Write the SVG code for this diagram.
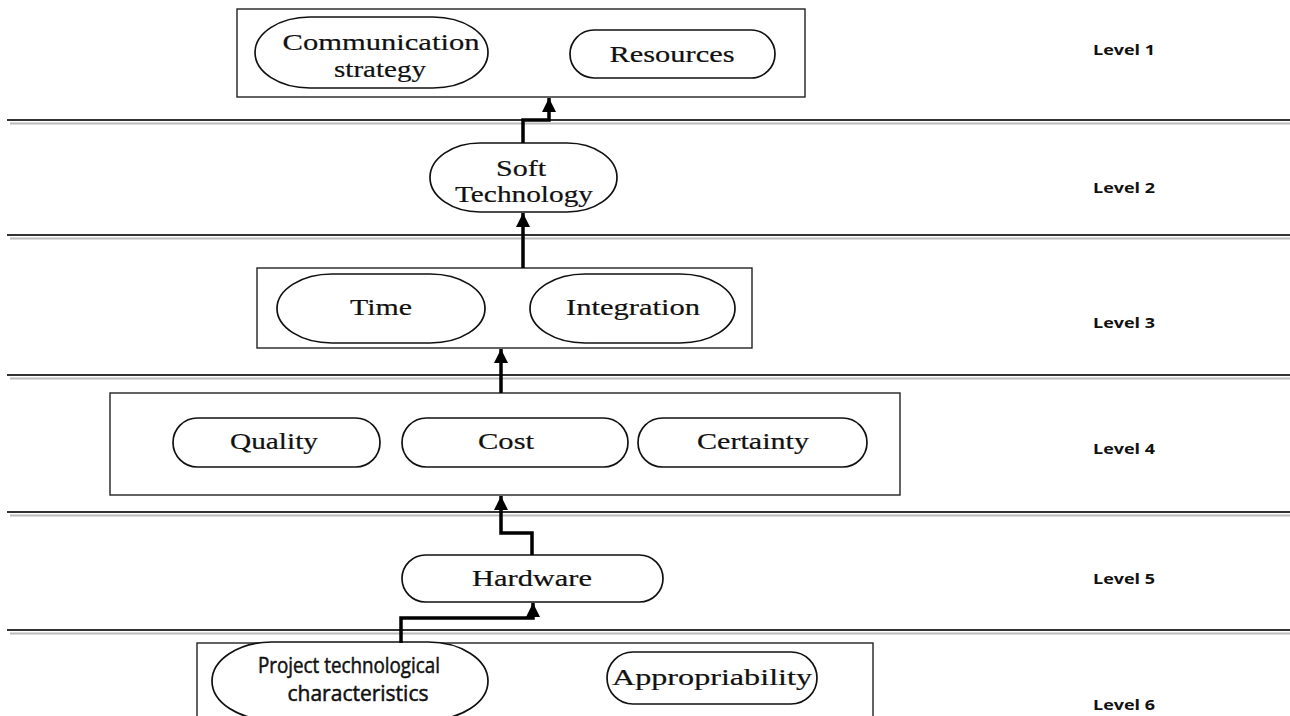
<svg xmlns="http://www.w3.org/2000/svg" width="1290" height="716" viewBox="0 0 1290 716">
<style>
.box{fill:#fff;stroke:#222;stroke-width:1.4}
.pill{fill:#fff;stroke:#111;stroke-width:1.7}
.t{font-family:"Liberation Serif","Times New Roman",serif;font-size:24px;fill:#111;stroke:#111;stroke-width:0.2;text-anchor:middle}
.s{font-family:"Open Sans","Liberation Sans",sans-serif;font-size:21px;fill:#111;stroke:#111;stroke-width:0.5;text-anchor:middle}
.lv{font-family:"Open Sans","Liberation Sans",sans-serif;font-weight:bold;font-size:15px;fill:#111}
.sep{stroke:#333;stroke-width:2}
.sh{stroke:#bbb;stroke-width:2}
.c{fill:none;stroke:#000;stroke-width:3.5}
</style>
<defs>
<marker id="ah" markerWidth="14" markerHeight="14" refX="14" refY="7" orient="auto" markerUnits="userSpaceOnUse">
<path d="M0,0 L14,7 L0,14 z" fill="#000"/>
</marker>
</defs>
<rect width="1290" height="716" fill="#fff"/>
<g id="separators">
<line class="sep" x1="7" y1="120" x2="1290" y2="120"/><line class="sh" x1="10" y1="123.5" x2="1290" y2="123.5"/>
<line class="sep" x1="7" y1="235" x2="1290" y2="235"/><line class="sh" x1="10" y1="238.5" x2="1290" y2="238.5"/>
<line class="sep" x1="7" y1="375" x2="1290" y2="375"/><line class="sh" x1="10" y1="378.5" x2="1290" y2="378.5"/>
<line class="sep" x1="7" y1="512" x2="1290" y2="512"/><line class="sh" x1="10" y1="515.5" x2="1290" y2="515.5"/>
<line class="sep" x1="7" y1="630" x2="1290" y2="630"/><line class="sh" x1="10" y1="633.5" x2="1290" y2="633.5"/>
</g>
<g id="level1">
<rect class="box" x="237" y="9" width="568" height="88"/>
<g id="communication-strategy">
<rect class="pill" x="255" y="17" width="233" height="71" rx="55" ry="35.5"/>
<text class="t" x="381" y="50" textLength="197" lengthAdjust="spacingAndGlyphs">Communication</text>
<text class="t" x="380" y="77" textLength="92" lengthAdjust="spacingAndGlyphs">strategy</text>
</g>
<g id="resources">
<rect class="pill" x="570" y="30" width="205" height="48" rx="24"/>
<text class="t" x="672" y="62" textLength="125" lengthAdjust="spacingAndGlyphs">Resources</text>
</g>
</g>
<g id="soft-technology">
<rect class="pill" x="430" y="143" width="187" height="69" rx="50" ry="34.5"/>
<text class="t" x="521" y="176" textLength="50" lengthAdjust="spacingAndGlyphs">Soft</text>
<text class="t" x="524" y="202" textLength="138" lengthAdjust="spacingAndGlyphs">Technology</text>
</g>
<g id="level3">
<rect class="box" x="257" y="268" width="495" height="80"/>
<g id="time">
<rect class="pill" x="277" y="274" width="208" height="69" rx="55" ry="34.5"/>
<text class="t" x="381" y="315" textLength="62" lengthAdjust="spacingAndGlyphs">Time</text>
</g>
<g id="integration">
<rect class="pill" x="530" y="274" width="205" height="69" rx="55" ry="34.5"/>
<text class="t" x="633" y="315" textLength="134" lengthAdjust="spacingAndGlyphs">Integration</text>
</g>
</g>
<g id="level4">
<rect class="box" x="110" y="393" width="790" height="102"/>
<g id="quality">
<rect class="pill" x="173" y="418" width="207" height="49" rx="24.5"/>
<text class="t" x="274" y="449" textLength="88" lengthAdjust="spacingAndGlyphs">Quality</text>
</g>
<g id="cost">
<rect class="pill" x="402" y="418" width="226" height="49" rx="24.5"/>
<text class="t" x="506" y="449" textLength="56" lengthAdjust="spacingAndGlyphs">Cost</text>
</g>
<g id="certainty">
<rect class="pill" x="638" y="418" width="229" height="49" rx="24.5"/>
<text class="t" x="753" y="449" textLength="112" lengthAdjust="spacingAndGlyphs">Certainty</text>
</g>
</g>
<g id="hardware">
<rect class="pill" x="402" y="555" width="261" height="47" rx="23.5"/>
<text class="t" x="532" y="586" textLength="120" lengthAdjust="spacingAndGlyphs">Hardware</text>
</g>
<g id="level6">
<rect class="box" x="197" y="643" width="676" height="80"/>
<g id="project-technological-characteristics">
<rect class="pill" x="212" y="642" width="276" height="78" rx="60" ry="39"/>
<text class="s" x="349" y="673" textLength="182" lengthAdjust="spacingAndGlyphs">Project technological</text>
<text class="s" x="358" y="701" textLength="141" lengthAdjust="spacingAndGlyphs">characteristics</text>
</g>
<g id="appropriability">
<rect class="pill" x="607" y="652" width="210" height="52" rx="26"/>
<text class="t" x="712" y="685" textLength="200" lengthAdjust="spacingAndGlyphs">Appropriability</text>
</g>
</g>
<g id="connectors">
<path class="c" d="M523,143 V120 H549 V98" marker-end="url(#ah)"/>
<path class="c" d="M523,268 V213" marker-end="url(#ah)"/>
<path class="c" d="M501,393 V349" marker-end="url(#ah)"/>
<path class="c" d="M532,555 V533 H501 V496" marker-end="url(#ah)"/>
<path class="c" d="M401,643 V618 H533 V603" marker-end="url(#ah)"/>
</g>
<g id="level-labels">
<text class="lv" x="1093" y="55" textLength="62" lengthAdjust="spacingAndGlyphs">Level 1</text>
<text class="lv" x="1093" y="193" textLength="62" lengthAdjust="spacingAndGlyphs">Level 2</text>
<text class="lv" x="1093" y="328" textLength="62" lengthAdjust="spacingAndGlyphs">Level 3</text>
<text class="lv" x="1093" y="454" textLength="62" lengthAdjust="spacingAndGlyphs">Level 4</text>
<text class="lv" x="1093" y="584" textLength="62" lengthAdjust="spacingAndGlyphs">Level 5</text>
<text class="lv" x="1093" y="710" textLength="62" lengthAdjust="spacingAndGlyphs">Level 6</text>
</g>
</svg>
